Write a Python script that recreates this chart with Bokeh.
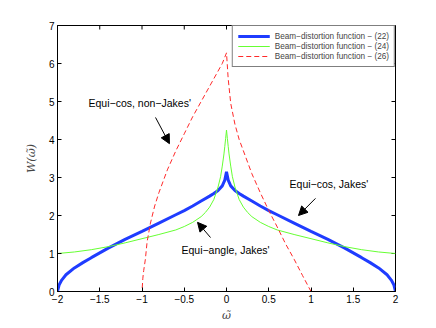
from bokeh.plotting import figure
from bokeh.models import Range1d, Legend, LegendItem, Arrow, NormalHead, Label, FixedTicker
from bokeh.embed import file_html
from bokeh.resources import INLINE
import math

# Beam-distortion function (22) - blue
x22 = [-2.0, -1.98, -1.95, -1.9, -1.8, -1.7, -1.6, -1.4, -1.2, -1.0, -0.8, -0.6, -0.5, -0.4, -0.3, -0.2, -0.15, -0.1, -0.05, -0.02, 0.0,
       0.02, 0.05, 0.1, 0.15, 0.2, 0.3, 0.4, 0.5, 0.6, 0.8, 1.0, 1.2, 1.4, 1.6, 1.7, 1.8, 1.9, 1.95, 1.98, 2.0]
w22 = [0.0, 0.18, 0.3, 0.44, 0.62, 0.76, 0.89, 1.14, 1.37, 1.58, 1.8, 2.02, 2.13, 2.25, 2.38, 2.51, 2.58, 2.66, 2.78, 2.93, 3.15,
       2.93, 2.78, 2.66, 2.58, 2.51, 2.38, 2.25, 2.13, 2.02, 1.8, 1.58, 1.37, 1.14, 0.89, 0.76, 0.62, 0.44, 0.3, 0.18, 0.0]

# Beam-distortion function (24) - green
x24 = [-2.0, -1.8, -1.6, -1.4, -1.2, -1.0, -0.8, -0.6, -0.5, -0.4, -0.3, -0.25, -0.2, -0.15, -0.1, -0.07, -0.05, -0.03, -0.02, -0.01, 0.0,
       0.01, 0.02, 0.03, 0.05, 0.07, 0.1, 0.15, 0.2, 0.25, 0.3, 0.4, 0.5, 0.6, 0.8, 1.0, 1.2, 1.4, 1.6, 1.8, 2.0]
w24 = [1.0, 1.04, 1.1, 1.18, 1.28, 1.39, 1.5, 1.62, 1.71, 1.82, 1.97, 2.08, 2.22, 2.42, 2.75, 3.02, 3.3, 3.62, 3.82, 4.03, 4.25,
       4.03, 3.82, 3.62, 3.3, 3.02, 2.75, 2.42, 2.22, 2.08, 1.97, 1.82, 1.71, 1.62, 1.5, 1.39, 1.28, 1.18, 1.1, 1.04, 1.0]

# Beam-distortion function (26) - red dashed
x26 = [-2.0, -1.0, -0.99, -0.98, -0.96, -0.94, -0.9, -0.85, -0.8, -0.7, -0.6, -0.5, -0.4, -0.3, -0.2, -0.1, -0.05, 0.0,
       0.02, 0.05, 0.1, 0.15, 0.2, 0.3, 0.4, 0.5, 0.6, 0.7, 0.8, 0.9, 1.0, 2.0]
w26 = [0.0, 0.0, 0.35, 0.55, 0.85, 1.3, 1.8, 2.25, 2.6, 3.2, 3.7, 4.15, 4.6, 5.0, 5.4, 5.8, 6.0, 6.28,
       5.6, 4.95, 4.4, 4.0, 3.7, 3.1, 2.6, 2.13, 1.7, 1.25, 0.85, 0.42, 0.0, 0.0]

legend_labels = ["Beam\u2212distortion function \u2212 (22)",
                 "Beam\u2212distortion function \u2212 (24)",
                 "Beam\u2212distortion function \u2212 (26)"]

x_ticks = [-2, -1.5, -1, -0.5, 0, 0.5, 1, 1.5, 2]
y_ticks = [0, 1, 2, 3, 4, 5, 6, 7]

# annotations
ann_texts = ["Equi\u2212cos, non\u2212Jakes'", "Equi\u2212angle, Jakes'", "Equi\u2212cos, Jakes'"]
ann_tx = [-1.633, -0.533, 0.746]
ann_ty = [4.95, 1.105, 2.82]
arr_x0 = [-0.840, -0.189, 1.053]
arr_y0 = [4.58, 1.42, 2.45]
arr_x1 = [-0.675, -0.343, 0.852]
arr_y1 = [3.89, 1.82, 2.0]

FONT = "Liberation Sans"
X_MIN, X_MAX, Y_MIN, Y_MAX = -2, 2, 0, 7

p = figure(width=436, height=328, output_backend="svg", toolbar_location=None,
           x_range=Range1d(X_MIN, X_MAX), y_range=Range1d(Y_MIN, Y_MAX),
           min_border_left=57, min_border_right=41, min_border_top=25, min_border_bottom=37)
p.xgrid.visible = False
p.ygrid.visible = False
p.outline_line_color = "black"
p.outline_line_width = 1
p.background_fill_color = "white"
p.border_fill_color = "white"

# box ticks on top and right edges (MATLAB style)
p.ray(x=x_ticks, y=[Y_MAX] * len(x_ticks), length=4, length_units="screen",
      angle=-math.pi / 2, line_color="black", line_width=1)
p.ray(x=[X_MAX] * len(y_ticks), y=y_ticks, length=4, length_units="screen",
      angle=math.pi, line_color="black", line_width=1)

r22 = p.line(x22, w22, line_color="#1f3cff", line_width=3)
r24 = p.line(x24, w24, line_color="#66ff33", line_width=1)
r26 = p.line(x26, w26, line_color="#ff2a2a", line_width=1, line_dash="5 3")

minus = "\u2212"
xo = {}
for t in x_ticks:
    s = ("%g" % abs(t))
    xo[t] = (minus + s) if t < 0 else s

for ax in [p.xaxis[0], p.yaxis[0]]:
    ax.major_tick_in = 4
    ax.major_tick_out = 0
    ax.minor_tick_line_color = None
    ax.axis_line_color = "black"
    ax.major_tick_line_color = "black"
    ax.major_label_text_font = FONT
    ax.major_label_text_font_size = "10px"
    ax.major_label_text_color = "black"
    ax.major_label_standoff = 3
p.xaxis[0].ticker = FixedTicker(ticks=x_ticks)
p.yaxis[0].ticker = FixedTicker(ticks=y_ticks)
p.xaxis[0].major_label_overrides = xo

p.xaxis[0].axis_label = "\u03c9\u0303"
p.yaxis[0].axis_label = "W(\u03c9\u0303)"
for ax in [p.xaxis[0], p.yaxis[0]]:
    ax.axis_label_text_font = "DejaVu Serif"
    ax.axis_label_text_font_style = "italic"
    ax.axis_label_text_font_size = "11px"
    ax.axis_label_standoff = 3
p.yaxis[0].axis_label_standoff = 8

legend = Legend(items=[LegendItem(label=legend_labels[0], renderers=[r22]),
                       LegendItem(label=legend_labels[1], renderers=[r24]),
                       LegendItem(label=legend_labels[2], renderers=[r26])],
                location="top_right", margin=0, padding=5, spacing=0,
                label_text_font=FONT, label_text_font_size="8.2px",
                label_height=10, glyph_height=10, glyph_width=32, label_standoff=5,
                border_line_color="black", border_line_width=1,
                background_fill_alpha=1.0)
p.add_layout(legend, "center")

for i in range(3):
    p.add_layout(Label(x=ann_tx[i], y=ann_ty[i], text=ann_texts[i], text_font=FONT,
                       text_font_size="10.5px", text_baseline="middle", text_align="left",
                       text_color="black"))
    p.add_layout(Arrow(x_start=arr_x0[i], y_start=arr_y0[i], x_end=arr_x1[i], y_end=arr_y1[i],
                       line_width=1, line_color="black",
                       end=NormalHead(size=9, fill_color="black", line_color="black")))

open("out.html", "w").write(file_html(p, INLINE))
